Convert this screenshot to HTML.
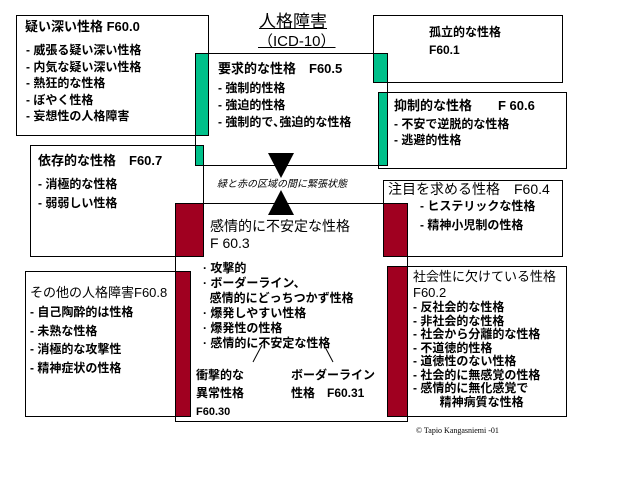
<!DOCTYPE html>
<html><head><meta charset="utf-8"><style>
body{margin:0;width:640px;height:480px;background:#fff;position:relative;overflow:hidden;font-family:"Liberation Sans","Noto Sans CJK JP",sans-serif;color:#000}
.b{position:absolute;border:1px solid #000;box-sizing:border-box;background:#fff}
.g{position:absolute;background:#00c08a;border:1px solid #000;box-sizing:border-box}
.r{position:absolute;background:#a00020;border:1px solid #000;box-sizing:border-box}
.t{position:absolute;white-space:nowrap;font-weight:bold;font-size:12px;line-height:16px}
.h{font-size:14px;line-height:17px;font-weight:normal}
</style></head><body>
<div class="b" style="left:195px;top:53px;width:193px;height:113px"></div>
<div class="b" style="left:16px;top:15px;width:193px;height:121px"></div>
<div class="b" style="left:30px;top:145px;width:174px;height:112px"></div>
<div class="b" style="left:373px;top:15px;width:190px;height:68px"></div>
<div class="b" style="left:378px;top:92px;width:189px;height:77px"></div>
<div class="b" style="left:175px;top:203px;width:233px;height:219px"></div>
<div class="b" style="left:383px;top:180px;width:180px;height:77px"></div>
<div class="b" style="left:25px;top:271px;width:166px;height:146px"></div>
<div class="b" style="left:387px;top:266px;width:180px;height:151px"></div>
<div class="g" style="left:195px;top:53px;width:14px;height:83px"></div>
<div class="g" style="left:195px;top:145px;width:9px;height:21px"></div>
<div class="g" style="left:373px;top:53px;width:15px;height:30px"></div>
<div class="g" style="left:378px;top:92px;width:10px;height:74px"></div>
<div class="r" style="left:175px;top:203px;width:29px;height:54px"></div>
<div class="r" style="left:383px;top:203px;width:25px;height:54px"></div>
<div class="r" style="left:175px;top:271px;width:16px;height:146px"></div>
<div class="r" style="left:387px;top:266px;width:21px;height:151px"></div>
<svg style="position:absolute;left:0;top:0" width="640" height="480">
<polygon points="268,153 294,153 281,178" fill="#000"/>
<polygon points="268,215 294,215 281,190" fill="#000"/>
<line x1="262" y1="345" x2="253" y2="362" stroke="#000"/>
<line x1="324" y1="345" x2="333" y2="362" stroke="#000"/>
</svg>
<div class="t h" style="left:259px;top:12px;font-size:17px;line-height:20px;text-decoration:underline">人格障害</div>
<div class="t h" style="left:258px;top:33px;font-size:15px;line-height:17px;text-decoration:underline">（ICD-10）</div>
<div class="t" style="left:25px;top:19px;font-size:13px">疑い深い性格 F60.0</div>
<div class="t" style="left:26px;top:42px;line-height:16.5px">- 威張る疑い深い性格<br>- 内気な疑い深い性格<br>- 熱狂的な性格<br>- ぼやく性格<br>- 妄想性の人格障害</div>
<div class="t h" style="left:218px;top:60px;font-weight:bold;font-size:13px">要求的な性格　F60.5</div>
<div class="t" style="left:218px;top:80px;line-height:17px">- 強制的性格<br>- 強迫的性格<br>- 強制的で､強迫的な性格</div>
<div class="t" style="left:429px;top:24px">孤立的な性格<br><span style="line-height:20px">F60.1</span></div>
<div class="t" style="left:394px;top:98px;font-size:13px">抑制的な性格　　F 60.6</div>
<div class="t" style="left:394px;top:116px">- 不安で逆脱的な性格<br>- 逃避的性格</div>
<div class="t" style="left:38px;top:153px;font-size:13px">依存的な性格　F60.7</div>
<div class="t" style="left:38px;top:175px;line-height:19px">- 消極的な性格<br>- 弱弱しい性格</div>
<div class="t" style="left:217px;top:177px;font-weight:normal;font-style:italic;font-size:10px">緑と赤の区域の間に緊張状態</div>
<div class="t h" style="left:388px;top:181px">注目を求める性格　F60.4</div>
<div class="t" style="left:420px;top:197px;line-height:19px">- ヒステリックな性格<br>- 精神小児制の性格</div>
<div class="t h" style="left:210px;top:218px">感情的に不安定な性格<br>F 60.3</div>
<div class="t" style="left:203px;top:261px;line-height:15px">· 攻撃的<br>· ボーダーライン、<br>&nbsp;&nbsp;感情的にどっちつかず性格<br>· 爆発しやすい性格<br>· 爆発性の性格<br>· 感情的に不安定な性格</div>
<div class="t" style="left:196px;top:366px;line-height:18px">衝撃的な<br>異常性格<br><span style="font-size:11px">F60.30</span></div>
<div class="t" style="left:291px;top:366px;line-height:18px">ボーダーライン<br>性格　F60.31</div>
<div class="t h" style="left:30px;top:284px;font-size:13px">その他の人格障害F60.8</div>
<div class="t" style="left:30px;top:303px;line-height:18.5px">- 自己陶酔的は性格<br>- 未熟な性格<br>- 消極的な攻撃性<br>- 精神症状の性格</div>
<div class="t h" style="left:413px;top:269px;font-size:13px;line-height:16px">社会性に欠けている性格<br>F60.2</div>
<div class="t" style="left:413px;top:301px;line-height:13.5px">- 反社会的な性格<br>- 非社会的な性格<br>- 社会から分離的な性格<br>- 不道徳的性格<br>- 道徳性のない性格<br>- 社会的に無感覚の性格<br>- 感情的に無化感覚で<br>&nbsp;&nbsp;&nbsp;&nbsp;&nbsp;&nbsp;&nbsp;&nbsp;精神病質な性格</div>
<div class="t" style="left:416px;top:423px;font-family:'Liberation Serif',serif;font-weight:normal;font-size:8px">© Tapio Kangasniemi -01</div>
</body></html>
